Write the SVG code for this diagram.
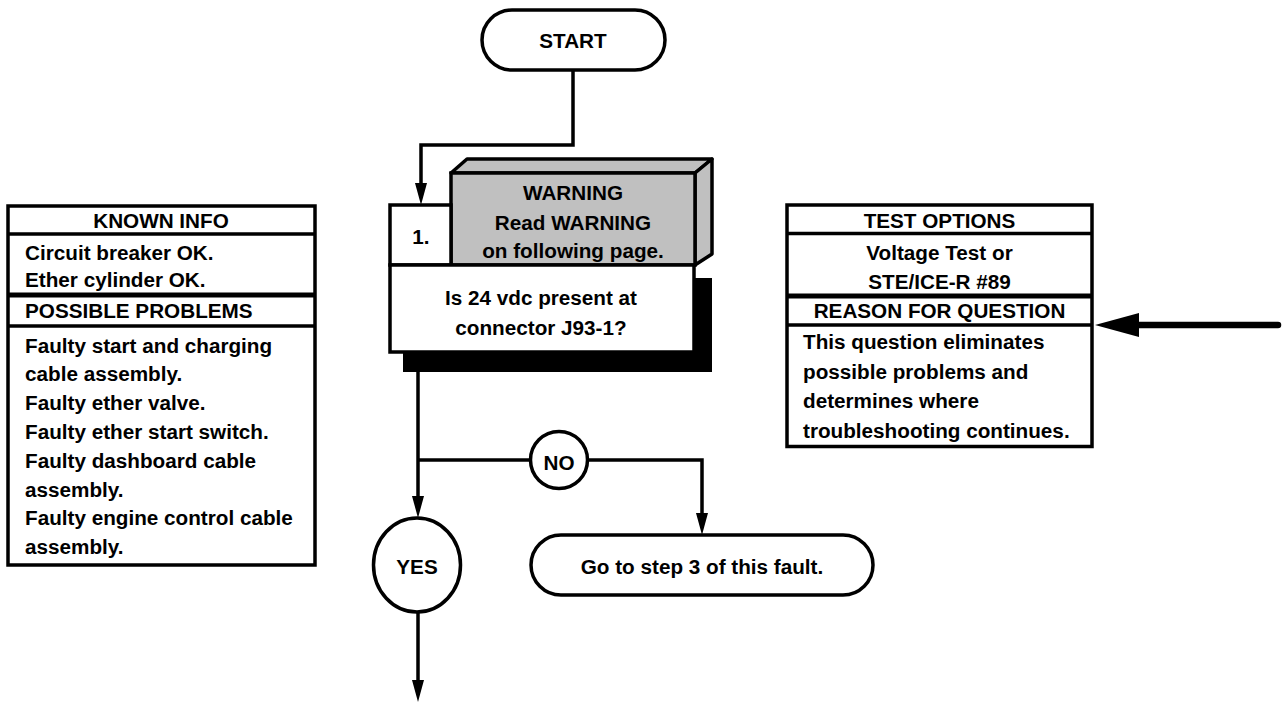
<svg xmlns="http://www.w3.org/2000/svg" width="1284" height="703" viewBox="0 0 1284 703">
<style>
text{font-family:"Liberation Sans",Arial,Helvetica,sans-serif;font-weight:bold;font-size:20.7px;fill:#000}
.c{text-anchor:middle}
.box{fill:#fff;stroke:#000;stroke-width:3.5}
.ln{fill:none;stroke:#000;stroke-width:3.5}
.conn{fill:none;stroke:#000;stroke-width:3.5;stroke-linejoin:miter}
</style>
<defs>
<marker id="ah" viewBox="0 0 22 12" refX="12" refY="6" markerWidth="22" markerHeight="12" orient="auto" markerUnits="userSpaceOnUse">
<path d="M0,0 L22,6 L0,12 z" fill="#000"/>
</marker>
<marker id="ahBig" viewBox="0 0 44 24" refX="20" refY="12" markerWidth="44" markerHeight="24" orient="auto" markerUnits="userSpaceOnUse">
<path d="M0,0 L44,12 L0,24 z" fill="#000"/>
</marker>
</defs>
<rect width="1284" height="703" fill="#fff"/>

<g id="connectors">
<path class="conn" d="M573,70 V145 H421 V195" marker-end="url(#ah)"/>
<path class="conn" d="M418,372 V508" marker-end="url(#ah)"/>
<path class="conn" d="M418,460 H531"/>
<path class="conn" d="M587,460 H702 V525" marker-end="url(#ah)"/>
<path class="conn" d="M418,612 V692" marker-end="url(#ah)"/>
<path d="M1278,325 H1119" fill="none" stroke="#000" stroke-width="6.5" stroke-linecap="round" marker-end="url(#ahBig)"/>
</g>

<g id="start">
<rect class="box" x="482" y="10" width="183" height="60" rx="30" ry="30"/>
<text class="c" x="573" y="48">START</text>
</g>

<g id="step1">
<rect x="403" y="278" width="309" height="94" fill="#000"/>
<polygon points="451,173 467,159 712,159 695,173" fill="#c0c0c0" stroke="#000" stroke-width="3.5" stroke-linejoin="round"/>
<polygon points="695,173 712,159 712,254 695,265" fill="#c0c0c0" stroke="#000" stroke-width="3.5" stroke-linejoin="round"/>
<rect x="451" y="173" width="244" height="92" fill="#c0c0c0" stroke="#000" stroke-width="3.5"/>
<rect class="box" x="390" y="205" width="61" height="60"/>
<text class="c" x="421" y="244">1.</text>
<text class="c" x="573" y="200">WARNING</text>
<text class="c" x="573" y="230">Read WARNING</text>
<text class="c" x="573" y="258">on following page.</text>
<rect class="box" x="390" y="265" width="304" height="87"/>
<text class="c" x="541" y="305">Is 24 vdc present at</text>
<text class="c" x="541" y="335">connector J93-1?</text>
</g>

<g id="known-info">
<rect class="box" x="8" y="206" width="307" height="359"/>
<line class="ln" x1="8" y1="234" x2="315" y2="234"/>
<line x1="8" y1="295" x2="315" y2="295" stroke="#000" stroke-width="5"/>
<line class="ln" x1="8" y1="326" x2="315" y2="326"/>
<text class="c" x="161" y="228">KNOWN INFO</text>
<text x="25" y="260">Circuit breaker OK.</text>
<text x="25" y="287">Ether cylinder OK.</text>
<text x="25" y="318">POSSIBLE PROBLEMS</text>
<text x="25" y="352.5">Faulty start and charging</text>
<text x="25" y="381.3">cable assembly.</text>
<text x="25" y="410.1">Faulty ether valve.</text>
<text x="25" y="438.9">Faulty ether start switch.</text>
<text x="25" y="467.7">Faulty dashboard cable</text>
<text x="25" y="496.5">assembly.</text>
<text x="25" y="525.3">Faulty engine control cable</text>
<text x="25" y="554.1">assembly.</text>
</g>

<g id="test-options">
<rect class="box" x="787" y="205" width="305" height="241.5"/>
<line class="ln" x1="787" y1="233.5" x2="1092" y2="233.5"/>
<line x1="787" y1="296" x2="1092" y2="296" stroke="#000" stroke-width="5"/>
<line class="ln" x1="787" y1="325" x2="1092" y2="325"/>
<text class="c" x="939.5" y="228">TEST OPTIONS</text>
<text class="c" x="939.5" y="260">Voltage Test or</text>
<text class="c" x="939.5" y="289">STE/ICE-R #89</text>
<text class="c" x="939.5" y="318">REASON FOR QUESTION</text>
<text x="803" y="349">This question eliminates</text>
<text x="803" y="379">possible problems and</text>
<text x="803" y="408">determines where</text>
<text x="803" y="438">troubleshooting continues.</text>
</g>

<g id="no">
<circle class="box" cx="559" cy="460" r="28.5"/>
<text class="c" x="559" y="470">NO</text>
</g>

<g id="goto-step3">
<rect class="box" x="531" y="535" width="342" height="60" rx="30" ry="30"/>
<text class="c" x="702" y="574">Go to step 3 of this fault.</text>
</g>

<g id="yes">
<ellipse class="box" cx="417" cy="565" rx="43.5" ry="47"/>
<text class="c" x="417" y="574">YES</text>
</g>
</svg>
